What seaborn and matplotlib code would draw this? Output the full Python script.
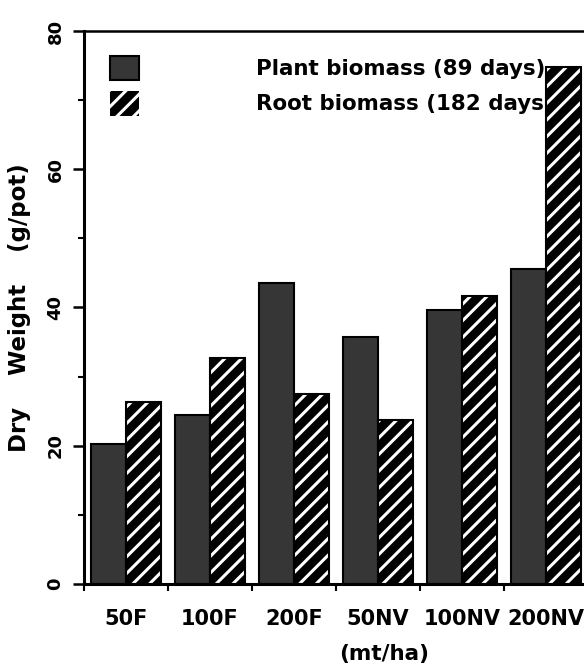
import pandas as pd
import numpy as np
import matplotlib
matplotlib.use("Agg")
import matplotlib.pyplot as plt
import seaborn as sns
from matplotlib.patches import Patch, Rectangle
from matplotlib.ticker import MultipleLocator, FixedLocator

treatments = ["50F", "100F", "200F", "50NV", "100NV", "200NV"]
plant_biomass = [20.3, 24.4, 43.5, 35.8, 39.7, 45.5]
root_biomass = [26.3, 32.7, 27.5, 23.7, 41.7, 74.8]
series = ["Plant biomass (89 days)", "Root biomass (182 days)"]

df = pd.DataFrame({
    "treatment": treatments * 2,
    "serie": [series[0]] * 6 + [series[1]] * 6,
    "peso": plant_biomass + root_biomass,
})

sns.set_style("ticks")
plt.rcParams["font.family"] = ["DejaVu Sans"]
plt.rcParams["font.weight"] = "bold"
plt.rcParams["hatch.linewidth"] = 2.2
for k in ["text.color", "axes.labelcolor", "xtick.color", "ytick.color", "axes.edgecolor"]:
    plt.rcParams[k] = "black"

plant_color = "#363636"

fig = plt.figure(figsize=(5.84, 6.71), dpi=100)
ax = fig.add_axes([0.1438, 0.1297, 0.8562, 0.8241])

sns.barplot(
    data=df, x="treatment", y="peso", hue="serie",
    order=treatments, hue_order=series,
    palette=[plant_color, "black"], width=0.83,
    saturation=1, legend=False, ax=ax,
)

# barras da planta: cinza escuro com contorno preto
for p in ax.containers[0]:
    p.set_edgecolor("black")
    p.set_linewidth(1.5)

# barras da raiz: listras brancas diagonais + contorno
for p in ax.containers[1]:
    p.set_facecolor("black")
    p.set_edgecolor("white")
    p.set_hatch("//")
    p.set_linewidth(0)
    ax.add_patch(Rectangle(p.get_xy(), p.get_width(), p.get_height(),
                           fill=False, edgecolor="black", linewidth=1.5, zorder=2))

ax.set_xlim(-0.5, 5.45)
ax.set_ylim(0, 80)

ax.yaxis.set_major_locator(MultipleLocator(20))
ax.yaxis.set_minor_locator(MultipleLocator(10))
ax.xaxis.set_minor_locator(FixedLocator(np.arange(-0.5, 5.5, 1.0)))

ax.tick_params(axis="y", which="major", length=8, width=1.8, direction="out", pad=6,
               labelsize=13)
ax.tick_params(axis="y", which="minor", length=4, width=1.5, direction="out")
ax.tick_params(axis="x", which="major", length=0, pad=18, labelsize=15)
ax.tick_params(axis="x", which="minor", length=5, width=1.5, direction="out")

for lab in ax.get_yticklabels():
    lab.set_rotation(90)
    lab.set_va("center")
    lab.set_fontweight("bold")
for lab in ax.get_xticklabels():
    lab.set_fontweight("bold")

for s in ["left", "bottom"]:
    ax.spines[s].set_linewidth(2.2)
ax.spines["top"].set_linewidth(1.8)
ax.spines["right"].set_visible(False)

ax.set_ylabel("Dry    Weight    (g/pot)", fontsize=16.5, fontweight="bold")
ax.yaxis.set_label_coords(-0.105, 0.5)
ax.set_xlabel("(mt/ha)", fontsize=15.5, fontweight="bold")
ax.xaxis.set_label_coords(0.6, -0.108)

handles = [
    Patch(facecolor=plant_color, edgecolor="black", linewidth=1.5),
    Patch(facecolor="black", edgecolor="white", hatch="//", linewidth=0),
]
leg = ax.legend(
    handles=handles, labels=series, loc="upper left",
    bbox_to_anchor=(0.03, 0.975), frameon=False, borderpad=0,
    handlelength=1.35, handleheight=1.4, handletextpad=5.5,
    labelspacing=0.5, prop={"size": 15.4, "weight": "bold"},
)
leg.set_zorder(0.5)

fig.savefig("out.png", dpi=100)
